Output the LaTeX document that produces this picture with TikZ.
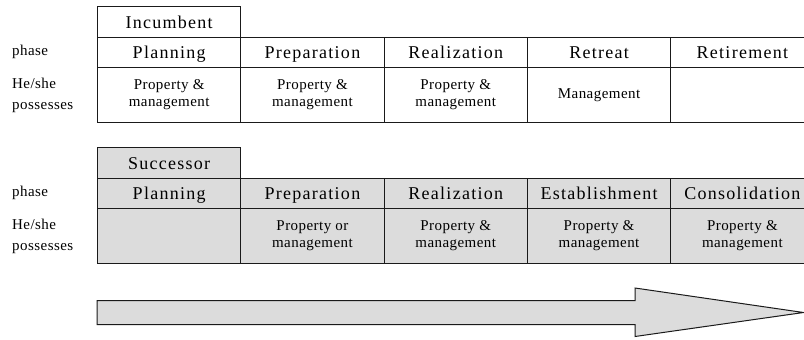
\documentclass[tikz,border=0pt]{standalone}
\usepackage{fontspec}
\setmainfont{Liberation Serif}
\newfontfamily\widefont{Liberation Serif}[LetterSpace=7]
\newfontfamily\narrowfont{Liberation Serif}[LetterSpace=3]
\newcommand\headfont{\widefont\fontsize{18bp}{21bp}\selectfont}
\newcommand\cellfont{\narrowfont\fontsize{15bp}{17bp}\selectfont}
\definecolor{linec}{HTML}{1A1A1A}
\definecolor{shade}{HTML}{DCDCDC}
\tikzset{
  cell/.style={draw=linec, line width=1bp, minimum width=143.3bp, inner sep=0pt,
    anchor=north west},
  headcell/.style={cell, minimum height=30.5bp, text height=16.5bp, text depth=3.5bp,
    font=\headfont},
  ownscell/.style={cell, minimum height=55bp, font=\cellfont, align=center},
  rowlabel/.style={anchor=base west, inner sep=0pt, font=\cellfont},
  shaded/.style={fill=shade},
  bigarrow/.style={draw=linec, line width=1bp, fill=shade},
}
\begin{document}
\begin{tikzpicture}[x=1bp, y=-1bp]
  \clip (0,0) rectangle (804,339);
  \fill[white] (0,0) rectangle (804,339);

  % incumbent table
  \node[headcell] (inc) at (97,6) {Incumbent};
  \node[headcell] (ip1) at (97,36.5) {Planning};
  \node[headcell] (ip2) at (240.3,36.5) {Preparation};
  \node[headcell] (ip3) at (383.6,36.5) {Realization};
  \node[headcell] (ip4) at (526.9,36.5) {Retreat};
  \node[headcell] (ip5) at (670.2,36.5) {Retirement};
  \node[ownscell] (io1) at (97,67) {Property \&\\management};
  \node[ownscell] (io2) at (240.3,67) {Property \&\\management};
  \node[ownscell] (io3) at (383.6,67) {Property \&\\management};
  \node[ownscell] (io4) at (526.9,67) {Management};
  \node[ownscell] (io5) at (670.2,67) {};
  \node[rowlabel] (il1) at (12,55) {phase};
  \node[rowlabel] (il2) at (12,88) {He/she};
  \node[rowlabel] (il3) at (12,109) {possesses};

  % successor table
  \node[headcell, shaded] (suc) at (97,147) {Successor};
  \node[headcell, shaded] (sp1) at (97,177.5) {Planning};
  \node[headcell, shaded] (sp2) at (240.3,177.5) {Preparation};
  \node[headcell, shaded] (sp3) at (383.6,177.5) {Realization};
  \node[headcell, shaded] (sp4) at (526.9,177.5) {Establishment};
  \node[headcell, shaded] (sp5) at (670.2,177.5) {Consolidation};
  \node[ownscell, shaded] (so1) at (97,208) {};
  \node[ownscell, shaded] (so2) at (240.3,208) {Property or\\management};
  \node[ownscell, shaded] (so3) at (383.6,208) {Property \&\\management};
  \node[ownscell, shaded] (so4) at (526.9,208) {Property \&\\management};
  \node[ownscell, shaded] (so5) at (670.2,208) {Property \&\\management};
  \node[rowlabel] (sl1) at (12,196) {phase};
  \node[rowlabel] (sl2) at (12,229) {He/she};
  \node[rowlabel] (sl3) at (12,250) {possesses};

  % time arrow
  \draw[bigarrow] (97,300.5) -- (635,300.5) -- (635,288) -- (803.5,312.5)
    -- (635,336.5) -- (635,324.5) -- (97,324.5) -- cycle;
\end{tikzpicture}
\end{document}
